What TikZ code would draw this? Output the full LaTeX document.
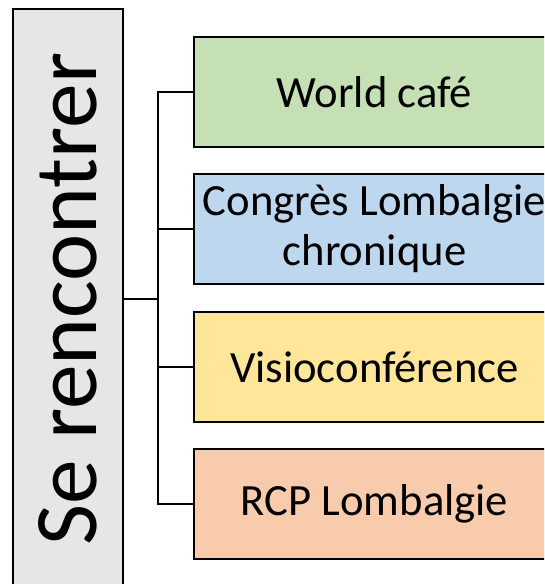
\documentclass[tikz,border=0pt]{standalone}
\usepackage{fontspec}
\setmainfont{Carlito}

\definecolor{grisbox}{RGB}{231,230,230}
\definecolor{vertbox}{RGB}{197,224,180}
\definecolor{bleubox}{RGB}{189,215,238}
\definecolor{jaunebox}{RGB}{255,230,153}
\definecolor{orangebox}{RGB}{248,203,173}

\tikzset{every picture/.style={line width=1.5pt}}
\tikzset{
  actbox/.style={draw=black, line width=1.5pt, minimum width=270.75pt, minimum height=82.5pt,
    inner sep=0pt, align=center, font=\fontsize{33.5}{37.5}\selectfont},
  lien/.style={draw=black, line width=1.4pt}
}

\begin{document}
\begin{tikzpicture}[x=0.75pt,y=0.75pt,yscale=-1,xscale=1]
\useasboundingbox (0,0) rectangle (544,584);
\clip (0,0) rectangle (544,584);

%Shape: Rectangle, titre vertical
\node [draw=black, fill=grisbox, line width=1.5pt, minimum width=82.5pt, minimum height=435pt, inner sep=0pt] (rencontrer) at (68,299)
  {\rotatebox{90}{\fontsize{67}{70}\selectfont Se rencontrer}};

% Text Node
\node [actbox, fill=vertbox] (worldcafe) at (374.5,92) {World café};
% Text Node
\node [actbox, fill=bleubox] (congres) at (374.5,229) {Congrès Lombalgie\\chronique};
% Text Node
\node [actbox, fill=jaunebox] (visio) at (374.5,367) {Visioconférence};
% Text Node
\node [actbox, fill=orangebox] (rcp) at (374.5,504) {RCP Lombalgie};

%Straight Lines
\coordinate (jonction) at (158,299);
\draw [lien] (rencontrer.east) -- (jonction);
\foreach \cible in {worldcafe,congres,visio,rcp}
  \draw [lien] (jonction) |- (\cible.west);

\end{tikzpicture}
\end{document}
